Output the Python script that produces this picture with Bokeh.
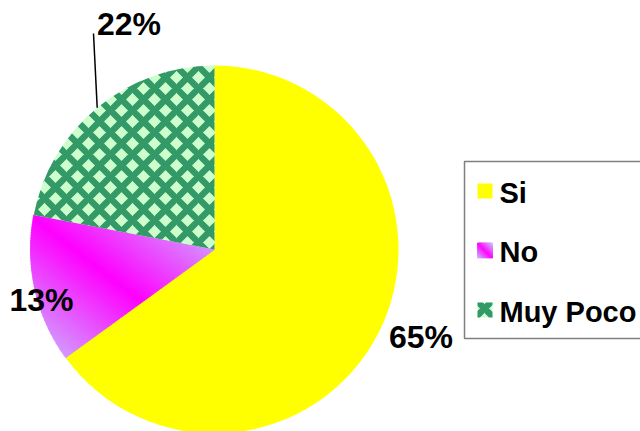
import numpy as np
from bokeh.plotting import figure
from bokeh.models import Range1d
from bokeh.core.properties import value
from bokeh.embed import file_html
from bokeh.resources import INLINE

# ---- data ----
categories = ["Si", "No", "Muy Poco"]
percent = [65, 13, 22]
labels = ["65%", "13%", "22%"]

# ---- styles / layout ----
YELLOW = "#FFFF00"
MAGENTA = np.array([255, 0, 255], dtype=float)
LAVENDER = np.array([200, 190, 255], dtype=float)
DARK_GREEN = "#339966"
LIGHT_GREEN = "#CCFFCC"
FONT = value("Liberation Sans")

W, H = 640, 431
CX, CY, R = 214.0, 182.0, 184.0
label_pos = [(420.5, 95.0), (41.0, 132.0), (128.5, 408.0)]
leader_top = (93.0, 398.0)
legend_box = dict(left=464, right=700, top=270, bottom=93)
legend_x, legend_sw = 484.5, 15.0
legend_y0, legend_step = 240.5, 59.5
legend_text_x = 499.0
legend_text_dy = -1.5
HATCH = dict(hatch_pattern="x", hatch_color=DARK_GREEN, hatch_scale=22, hatch_weight=6.5)

p = figure(width=W, height=H, x_range=Range1d(0, W), y_range=Range1d(0, H),
           output_backend="svg", toolbar_location=None, min_border=0,
           x_axis_location=None, y_axis_location=None, outline_line_color=None,
           background_fill_color="white", border_fill_color="white")
p.grid.visible = False

# angles (clockwise from 12 o'clock)
frac = np.array(percent, dtype=float) / sum(percent)
cum = np.concatenate([[0], np.cumsum(frac)])
starts = np.pi / 2 - 2 * np.pi * cum[:-1]
ends = np.pi / 2 - 2 * np.pi * cum[1:]


def hexcol(c):
    c = np.clip(np.round(c), 0, 255).astype(int)
    return "#%02x%02x%02x" % tuple(c)


def clip(pts, lin, c, ge):
    out = []
    n = len(pts)
    for i in range(n):
        a = pts[i]
        b = pts[(i + 1) % n]
        fa = lin(a) - c
        fb = lin(b) - c
        if not ge:
            fa, fb = -fa, -fb
        if fa >= 0:
            out.append(a)
        if (fa >= 0) != (fb >= 0):
            t = fa / (fa - fb)
            out.append((a[0] + t * (b[0] - a[0]), a[1] + t * (b[1] - a[1])))
    return out


def gradient_fill(poly, nb=100):
    xs = [q[0] for q in poly]
    ys = [q[1] for q in poly]
    x0, x1, y0, y1 = min(xs), max(xs), min(ys), max(ys)

    def lin(P):
        return (P[0] - x0) / (x1 - x0) + (P[1] - y0) / (y1 - y0)

    edges = np.linspace(0, 2, nb + 1)
    bx, by, bc = [], [], []
    for i in range(nb):
        lo, hi = edges[i], edges[i + 1]
        q = clip(poly, lin, lo - 0.002, True)
        if len(q) < 3:
            continue
        q = clip(q, lin, hi + 0.002, False)
        if len(q) < 3:
            continue
        s = (lo + hi) / 2
        t = 1 - abs(s - 1)
        col = hexcol(LAVENDER + t * (MAGENTA - LAVENDER))
        bx.append([pt[0] for pt in q])
        by.append([pt[1] for pt in q])
        bc.append(col)
    p.patches(xs=bx, ys=by, fill_color=bc, line_color=bc, line_width=0.8)


# Si
p.wedge(x=CX, y=CY, radius=R, start_angle=starts[0], end_angle=ends[0],
        direction="clock", fill_color=YELLOW, line_color=None)

# No (diagonal gradient)
arc = np.linspace(starts[1], ends[1], 80)
poly = [(CX, CY)] + [(CX + R * np.cos(a), CY + R * np.sin(a)) for a in arc]
gradient_fill(poly)

# Muy Poco (pattern)
p.wedge(x=CX, y=CY, radius=R, start_angle=starts[2], end_angle=ends[2],
        direction="clock", fill_color=LIGHT_GREEN, line_color=None, **HATCH)

# labels
p.text(x=[q[0] for q in label_pos], y=[q[1] for q in label_pos], text=labels,
       text_font=FONT, text_font_style="bold", text_font_size="32px",
       text_align="center", text_baseline="alphabetic", text_color="black")

# leader line for Muy Poco
mid = (starts[2] + ends[2]) / 2
p.line(x=[leader_top[0], CX + R * np.cos(mid)], y=[leader_top[1], CY + R * np.sin(mid)],
       line_color="black", line_width=1.5)

# legend
p.quad(fill_color="white", line_color="#7f7f7f", line_width=1.5, **legend_box)
ly = [legend_y0 - i * legend_step for i in range(len(categories))]
h = legend_sw / 2
p.quad(left=legend_x - h, right=legend_x + h, top=ly[0] + h, bottom=ly[0] - h,
       fill_color=YELLOW, line_color=None)
sq = [(legend_x - h, ly[1] - h), (legend_x + h, ly[1] - h),
      (legend_x + h, ly[1] + h), (legend_x - h, ly[1] + h)]
gradient_fill(sq, nb=30)
p.quad(left=legend_x - h, right=legend_x + h, top=ly[2] + h, bottom=ly[2] - h,
       fill_color=LIGHT_GREEN, line_color=None, **HATCH)
p.text(x=[legend_text_x] * 3, y=[y + legend_text_dy for y in ly], text=categories,
       text_font=FONT, text_font_style="bold", text_font_size="29px",
       text_align="left", text_baseline="alphabetic", text_color="black")

open("out.html", "w").write(file_html(p, INLINE))
